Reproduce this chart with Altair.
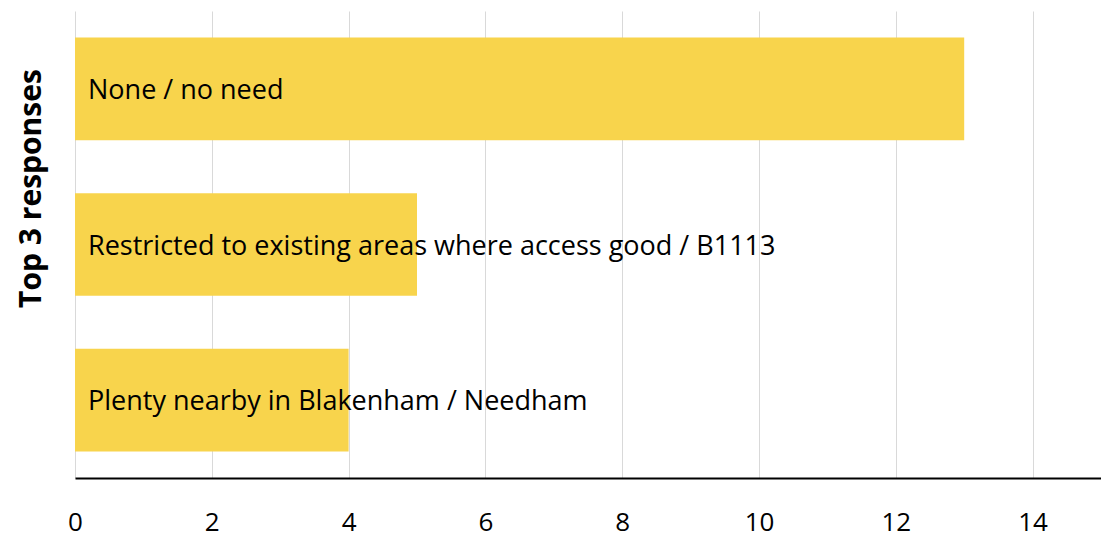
import altair as alt
import pandas as pd

responses = [
    "None / no need",
    "Restricted to existing areas where access good / B1113",
    "Plenty nearby in Blakenham / Needham",
]
counts = [13, 5, 4]
x_ticks = [0, 2, 4, 6, 8, 10, 12, 14]

df = pd.DataFrame({"response": responses, "count": counts})

FONT = "Open Sans"

base = alt.Chart(df).encode(
    y=alt.Y(
        "response:N",
        sort=responses,
        scale=alt.Scale(paddingInner=0.34, paddingOuter=0.17),
        axis=alt.Axis(
            title="Top 3 responses",
            labels=False,
            ticks=False,
            domain=False,
            grid=False,
            titleFont=FONT,
            titleFontSize=30,
            titleFontWeight="bold",
            titleColor="#000000",
            titleAngle=-90,
            titleAlign="center",
            titleBaseline="middle",
            titleX=-44,
            titleY=177,
        ),
    )
)

bars = base.mark_bar(color="#F8D44C").encode(
    x=alt.X(
        "count:Q",
        scale=alt.Scale(domain=[0, 15], nice=False),
        axis=alt.Axis(title=None, values=x_ticks, format="d"),
    )
)

labels = base.mark_text(
    align="left", baseline="middle", dx=13, dy=2, font=FONT, fontSize=27, color="#000000"
).encode(x=alt.datum(0), text="response:N")

chart = (
    (bars + labels)
    .properties(width=1026, height=467, autosize=alt.AutoSizeParams(type="none"),
                padding={"left": 67, "top": 3, "right": 0, "bottom": 60})
    .configure_view(stroke=None)
    .configure_axisX(
        grid=True,
        gridColor="#d9d9d9",
        gridWidth=1,
        ticks=False,
        domainColor="#000000",
        domainWidth=2,
        domainOpacity=1,
        labelFont=FONT,
        labelFontSize=26,
        labelColor="#000000",
        labelPadding=44,
        labelBaseline="middle",
        labelFlush=False,
    )
)

chart.save("out.html", embed_options={"renderer": "svg", "actions": False})
